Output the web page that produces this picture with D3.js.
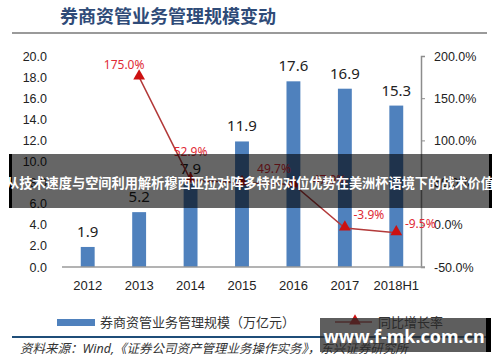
<!DOCTYPE html>
<html>
<head>
<meta charset="utf-8">
<script src="https://cdn.jsdelivr.net/npm/d3@7"></script>
<style>
  body { margin: 0; background: #fff; }
  svg { display: block; font-family: "Noto Sans", "Noto Sans CJK SC", sans-serif; }
</style>
</head>
<body>
<svg width="500" height="362"></svg>
<script>
// **** data ****
var years = ['2012', '2013', '2014', '2015', '2016', '2017', '2018H1'];
var scale = [1.9, 5.2, 7.9, 11.9, 17.6, 16.9, 15.3];          // 万亿元
var growth = [null, 175.0, 52.9, 49.7, 47.9, -3.9, -9.5];       // %
var leftTicks = [0, 2, 4, 6, 8, 10, 12, 14, 16, 18, 20];
var rightTicks = [-50, 0, 50, 100, 150, 200];

var svg = d3.select('svg');

// **** scales ****
var x = d3.scaleBand().domain(years).range([62, 422])
    .paddingInner(0.73).paddingOuter(0.365);
var yL = d3.scaleLinear().domain([0, 20]).range([267, 56]);
var yR = d3.scaleLinear().domain([-50, 200]).range([267, 56]);

// title
svg.append('text')
    .attr('x', 60).attr('y', 23)
    .attr('font-size', 18).attr('font-weight', 'bold')
    .attr('fill', '#2f4b78')
    .text('券商资管业务管理规模变动');
svg.append('line')
    .attr('x1', 12).attr('x2', 487).attr('y1', 33).attr('y2', 33)
    .attr('stroke', '#9a9a9a').attr('stroke-width', 2);

// **** axes ****
var gl = svg.append('g').attr('transform', 'translate(62,0)')
    .call(d3.axisLeft(yL).tickValues(leftTicks).tickSize(0).tickPadding(15)
        .tickFormat(d3.format('.1f')));
gl.select('.domain').remove();
gl.selectAll('text').attr('font-size', 12.5).attr('fill', '#222');

var gr = svg.append('g').attr('transform', 'translate(421,0)')
    .call(d3.axisRight(yR).tickValues(rightTicks).tickSize(4).tickPadding(9)
        .tickFormat(function(d) { return d.toFixed(1) + '%'; }));
gr.select('.domain').attr('stroke', '#8c8c8c').attr('stroke-width', 1.5);
gr.selectAll('line').attr('stroke', '#8c8c8c');
gr.selectAll('text').attr('font-size', 12.5).attr('fill', '#222');

// bars
svg.selectAll('rect.bar')
    .data(scale)
    .enter().append('rect')
    .attr('class', 'bar')
    .attr('x', function(d, i) { return x(years[i]); })
    .attr('width', x.bandwidth())
    .attr('y', function(d) { return yL(d); })
    .attr('height', function(d) { return yL(0) - yL(d); })
    .attr('fill', '#4f81bd');

svg.selectAll('text.val')
    .data(scale)
    .enter().append('text')
    .attr('class', 'val')
    .attr('x', function(d, i) { return x(years[i]) + x.bandwidth() / 2; })
    .attr('y', function(d) { return yL(d) - 10; })
    .attr('text-anchor', 'middle')
    .attr('font-size', 15).attr('fill', '#222')
    .text(function(d) { return d.toFixed(1); });

var xa = svg.append('g').attr('transform', 'translate(0,267)')
    .call(d3.axisBottom(x).tickSize(0).tickPadding(14));
xa.select('.domain').attr('stroke', '#9a9a9a').attr('stroke-width', 1.5)
    .attr('d', 'M62,0H425');
xa.selectAll('text').attr('font-size', 13).attr('fill', '#222');

// growth line
var pts = growth.map(function(g, i) { return { year: years[i], g: g }; })
    .filter(function(p) { return p.g !== null; });
var cx = function(p) { return x(p.year) + x.bandwidth() / 2; };

svg.append('path')
    .datum(pts)
    .attr('fill', 'none')
    .attr('stroke', '#b33a3a').attr('stroke-width', 1.5)
    .attr('d', d3.line().x(cx).y(function(p) { return yR(p.g); }));

var tri = d3.symbol().type(d3.symbolTriangle).size(60);
svg.selectAll('path.mk')
    .data(pts)
    .enter().append('path')
    .attr('class', 'mk')
    .attr('d', tri)
    .attr('transform', function(p) { return 'translate(' + cx(p) + ',' + (yR(p.g) - 1) + ')'; })
    .attr('fill', '#cc1111');

// label shifts
var labelShift = { '2013': [-15, -8], '2014': [0, -24], '2015': [32, -10], '2016': [36, 0], '2017': [24, -9], '2018H1': [24, -5] };
svg.selectAll('text.pct')
    .data(pts)
    .enter().append('text')
    .attr('class', 'pct')
    .attr('x', function(p) { return cx(p) + labelShift[p.year][0]; })
    .attr('y', function(p) { return yR(p.g) + labelShift[p.year][1]; })
    .attr('text-anchor', 'middle')
    .attr('font-size', 12).attr('fill', '#e02a35')
    .text(function(p) { return p.g.toFixed(1) + '%'; });

// legend
svg.append('rect').attr('x', 57).attr('y', 319).attr('width', 38).attr('height', 7)
    .attr('fill', '#4f81bd');
svg.append('text').attr('x', 100).attr('y', 327)
    .attr('font-size', 13).attr('fill', '#333')
    .text('券商资管业务管理规模（万亿元）');
svg.append('line').attr('x1', 335).attr('x2', 372).attr('y1', 322).attr('y2', 322)
    .attr('stroke', '#b33a3a').attr('stroke-width', 1.5);
svg.append('path').attr('d', tri).attr('transform', 'translate(355,321)').attr('fill', '#cc1111');
svg.append('text').attr('x', 378).attr('y', 327)
    .attr('font-size', 13).attr('fill', '#333')
    .text('同比增长率');

// bottom rule and source
svg.append('line')
    .attr('x1', 12).attr('x2', 487).attr('y1', 337).attr('y2', 337)
    .attr('stroke', '#1f4e79').attr('stroke-width', 2);
svg.append('text').attr('x', 20).attr('y', 353)
    .attr('font-size', 12.5).attr('font-style', 'italic').attr('fill', '#333')
    .text('资料来源：Wind,《证券公司资产管理业务操作实务》，东兴证券研究所');

// overlay banner
svg.append('rect').attr('x', 10).attr('y', 154).attr('width', 481).attr('height', 54)
    .attr('fill', 'rgba(0,0,0,0.6)');
svg.append('rect').attr('x', 9).attr('y', 154).attr('width', 3).attr('height', 54).attr('fill', '#000');
svg.append('rect').attr('x', 489).attr('y', 154).attr('width', 3).attr('height', 54).attr('fill', '#000');
svg.append('text').attr('x', 250).attr('y', 188)
    .attr('text-anchor', 'middle')
    .attr('font-size', 13.2).attr('font-weight', 'bold').attr('fill', '#fff')
    .text('从技术速度与空间利用解析穆西亚拉对阵多特的对位优势在美洲杯语境下的战术价值');

// watermark
svg.append('rect').attr('x', 320).attr('y', 318).attr('width', 167).attr('height', 34)
    .attr('fill', 'rgba(40,40,40,0.75)');
svg.append('rect').attr('x', 486).attr('y', 318).attr('width', 5).attr('height', 34).attr('fill', '#000');
svg.append('text').attr('x', 404).attr('y', 343)
    .attr('text-anchor', 'middle')
    .attr('font-size', 18).attr('font-weight', 'bold').attr('fill', '#fff')
    .text('www.f-mk.com.cn');
</script>
</body>
</html>
